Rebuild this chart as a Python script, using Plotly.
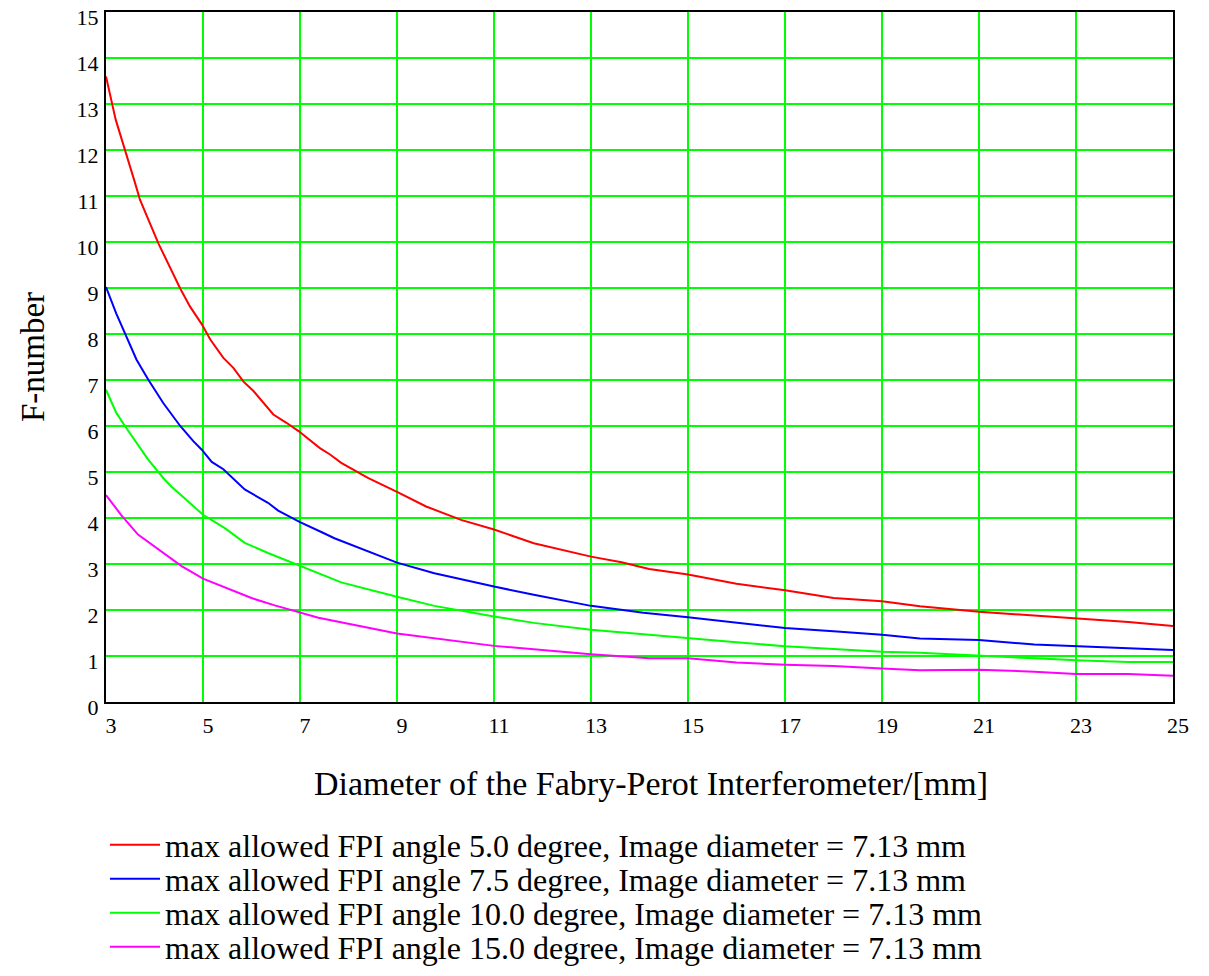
import plotly.graph_objects as go

# Red: max allowed FPI angle 5.0 degree
red_x = [3.0, 3.2, 3.6, 3.7, 4.08, 4.32, 4.53, 4.73, 4.97, 5.15, 5.42, 5.63, 5.83, 6.04, 6.45, 6.72, 6.97, 7.41, 7.62, 7.85, 8.4, 9.0, 9.6, 10.32, 11.0, 11.82, 12.4, 13.0, 13.63, 14.2, 15.0, 16.0, 17.0, 18.0, 19.0, 19.78, 21.0, 22.14, 23.0, 24.08, 25.0]
red_y = [13.6, 12.66, 11.28, 10.92, 9.97, 9.43, 8.99, 8.6, 8.22, 7.88, 7.48, 7.26, 6.97, 6.76, 6.25, 6.07, 5.89, 5.52, 5.38, 5.2, 4.87, 4.57, 4.25, 3.96, 3.75, 3.45, 3.3, 3.16, 3.04, 2.89, 2.77, 2.57, 2.43, 2.26, 2.19, 2.08, 1.96, 1.88, 1.83, 1.74, 1.65]

# Blue: 7.5 degree
blue_x = [3.0, 3.21, 3.63, 3.87, 4.18, 4.53, 4.8, 4.97, 5.18, 5.42, 5.86, 6.34, 6.55, 7.0, 7.45, 7.71, 9.0, 9.77, 11.0, 11.82, 13.0, 14.08, 15.0, 16.0, 17.0, 18.0, 19.0, 19.78, 21.0, 22.14, 23.0, 24.08, 25.0]
blue_y = [9.02, 8.45, 7.44, 7.01, 6.5, 6.0, 5.67, 5.49, 5.22, 5.06, 4.62, 4.33, 4.16, 3.91, 3.69, 3.56, 3.03, 2.80, 2.51, 2.33, 2.09, 1.94, 1.84, 1.72, 1.61, 1.54, 1.46, 1.38, 1.35, 1.25, 1.22, 1.17, 1.13]

# Green: 10.0 degree
green_x = [3.0, 3.21, 3.39, 3.63, 3.87, 4.18, 4.34, 4.62, 5.0, 5.45, 5.86, 6.34, 7.0, 7.45, 7.85, 9.0, 9.77, 11.0, 11.82, 13.0, 13.63, 14.2, 15.0, 16.0, 17.0, 18.0, 19.0, 19.78, 21.0, 22.14, 23.0, 24.08, 25.0]
green_y = [6.79, 6.29, 6.0, 5.64, 5.27, 4.87, 4.69, 4.43, 4.07, 3.78, 3.46, 3.24, 2.96, 2.77, 2.60, 2.29, 2.09, 1.86, 1.72, 1.57, 1.51, 1.47, 1.38, 1.30, 1.21, 1.15, 1.09, 1.07, 1.0, 0.95, 0.91, 0.87, 0.87]

# Magenta: 15.0 degree
mag_x = [3.0, 3.31, 3.66, 4.14, 4.55, 5.0, 5.52, 6.0, 6.48, 7.0, 7.38, 9.0, 11.0, 13.0, 14.2, 15.0, 16.0, 17.0, 18.0, 19.0, 19.78, 21.0, 22.14, 23.0, 24.08, 25.0]
mag_y = [4.5, 4.07, 3.64, 3.28, 2.96, 2.68, 2.46, 2.26, 2.10, 1.95, 1.83, 1.49, 1.22, 1.04, 0.95, 0.95, 0.86, 0.81, 0.78, 0.73, 0.69, 0.70, 0.66, 0.61, 0.61, 0.57]

names = [
    "max allowed FPI angle 5.0 degree, Image diameter = 7.13 mm",
    "max allowed FPI angle 7.5 degree, Image diameter = 7.13 mm",
    "max allowed FPI angle 10.0 degree, Image diameter = 7.13 mm",
    "max allowed FPI angle 15.0 degree, Image diameter = 7.13 mm",
]
colors = ["#ff0000", "#0000ff", "#00ff00", "#ff00ff"]
x_ticks = [3, 5, 7, 9, 11, 13, 15, 17, 19, 21, 23, 25]
y_ticks = list(range(0, 16))
x_title = "Diameter of the Fabry-Perot Interferometer/[mm]"
y_title = "F-number"

FONT = "Liberation Serif"

fig = go.Figure()
legend_ids = ["legend", "legend2", "legend3", "legend4"]
for xs, ys, nm, c, lg in zip([red_x, blue_x, green_x, mag_x], [red_y, blue_y, green_y, mag_y], names, colors, legend_ids):
    fig.add_trace(go.Scatter(x=xs, y=ys, mode="lines", name=nm, legend=lg,
                             line=dict(color=c, width=2)))

# plot area: 1067 x 690 px starting at (106, 12)
PLOT_BOTTOM, PLOT_H, PLOT_L, PLOT_W = 702, 690.0, 106, 1067.0
row_px = [845, 879, 913, 947]
legend_common = dict(x=(105 - PLOT_L) / PLOT_W, xanchor="left", yanchor="middle", orientation="v",
                     font=dict(size=32, family=FONT, color="black"), itemwidth=50,
                     bgcolor="rgba(0,0,0,0)")
layout_legends = {}
for lg, py in zip(legend_ids, row_px):
    layout_legends[lg] = dict(legend_common, y=(PLOT_BOTTOM - py) / PLOT_H)

fig.update_layout(
    width=1209, height=976,
    margin=dict(l=106, r=36, t=12, b=274, autoexpand=False),
    paper_bgcolor="white", plot_bgcolor="white",
    font=dict(family=FONT, color="black", size=22),
    showlegend=True,
    annotations=[dict(text=x_title, xref="paper", yref="paper",
                      x=(651 - PLOT_L) / PLOT_W, y=(PLOT_BOTTOM - 783) / PLOT_H,
                      xanchor="center", yanchor="middle", showarrow=False,
                      font=dict(size=34, family=FONT, color="black"))],
    **layout_legends,
)
fig.update_xaxes(range=[3, 25], tickvals=x_ticks, ticktext=[str(v) for v in x_ticks],
                 showgrid=True, gridcolor="#00ff00", gridwidth=2,
                 showline=True, linecolor="black", linewidth=2, mirror=True,
                 ticks="", zeroline=False, tickfont=dict(size=22, family=FONT),
                 ticklabelshift=5, ticklabelstandoff=3, ticklabeloverflow="allow")
fig.update_yaxes(range=[0, 15], tickvals=y_ticks, ticktext=[str(v) for v in y_ticks],
                 showgrid=True, gridcolor="#00ff00", gridwidth=2,
                 showline=True, linecolor="black", linewidth=2, mirror=True,
                 ticks="", zeroline=False, tickfont=dict(size=22, family=FONT),
                 ticklabelshift=5, ticklabelstandoff=1, ticklabeloverflow="allow",
                 title=dict(text=y_title, font=dict(size=33, family=FONT), standoff=22))

fig.write_html("out.html")
